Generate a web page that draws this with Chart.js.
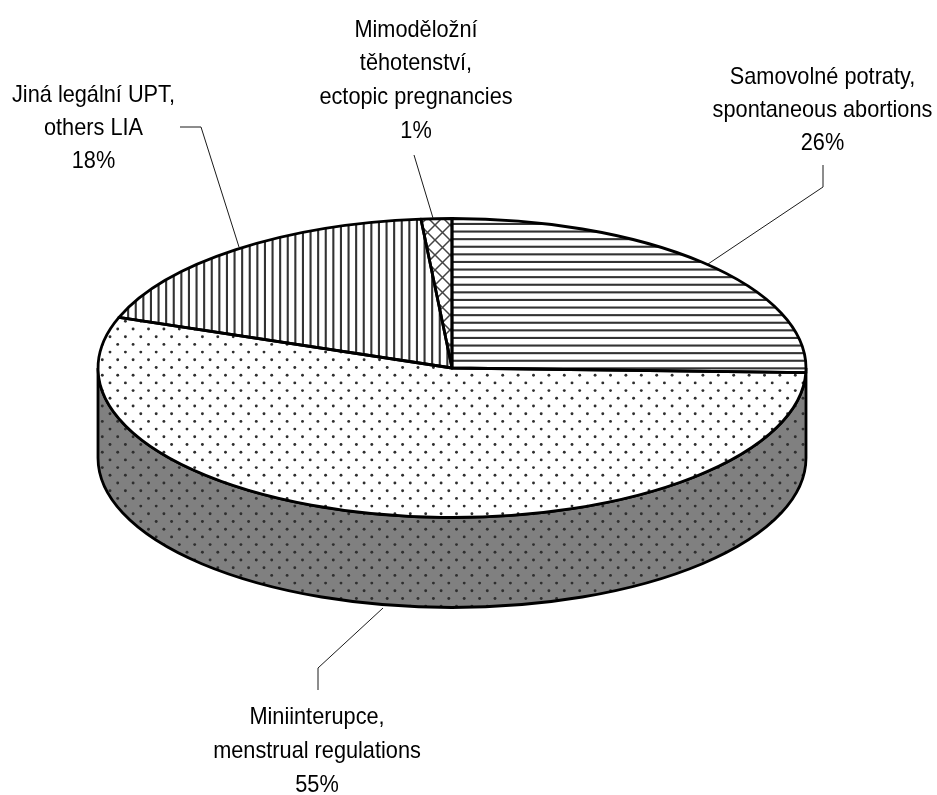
<!DOCTYPE html>
<html>
<head>
<meta charset="utf-8">
<title>Pie</title>
<script src="https://cdn.jsdelivr.net/npm/chart.js@4"></script>
<style>
  html, body { margin: 0; padding: 0; background: #fff; }
  #wrap { position: relative; width: 937px; height: 795px; }
</style>
</head>
<body>
<div id="wrap"><canvas id="pie" width="937" height="795"></canvas></div>
<script>
// slice order, clockwise from 12 o'clock
const categories = [
  'Samovolné potraty, spontaneous abortions',
  'Miniinterupce, menstrual regulations',
  'Jiná legální UPT, others LIA',
  'Mimoděložní těhotenství, ectopic pregnancies'
];
const values = [25.5, 55, 18.1, 1.4];
const percentLabels = ['26%', '55%', '18%', '1%'];
const labelLines = [
  ['Samovolné potraty,', 'spontaneous abortions'],
  ['Miniinterupce,', 'menstrual regulations'],
  ['Jiná legální UPT,', 'others LIA'],
  ['Mimoděložní', 'těhotenství,', 'ectopic pregnancies']
];

// layout of the flattened pie
const squash = 149.5 / 354;
const depth = 90;
const centerY = 368;
const textStretch = 0.905;
const labelBoxes = [
  { x: 822.5, y: 83.5, step: 33.4 },
  { x: 317, y: 723.5, step: 34 },
  { x: 93.5, y: 101.5, step: 33.2 },
  { x: 416, y: 36.5, step: 33.8 }
];
const leaders = [
  [[708, 264], [823, 187], [823, 165]],
  [[383, 608], [318, 668], [318, 690]],
  [[239, 247], [201, 127], [180, 127]],
  [[433, 218], [414, 155]]
];

function tile(size, paint) {
  const c = document.createElement('canvas');
  c.width = size;
  c.height = size;
  paint(c.getContext('2d'));
  return c;
}

function hLines(ctx) {
  ctx.fillStyle = '#fff';
  ctx.fillRect(0, 0, 38, 38);
  ctx.fillStyle = '#333';
  for (let i = 0; i < 5; i++) ctx.fillRect(0, i * 7.6 + 2.5, 38, 2.1);
}

function vLines(ctx) {
  ctx.fillStyle = '#fff';
  ctx.fillRect(0, 0, 38, 38);
  ctx.fillStyle = '#333';
  for (let i = 0; i < 5; i++) ctx.fillRect(i * 7.6 + 5.5, 0, 2.1, 38);
}

function dots(bg) {
  return ctx => {
    ctx.fillStyle = bg;
    ctx.fillRect(0, 0, 77, 77);
    ctx.fillStyle = '#2e2e2e';
    for (let r = 0; r < 10; r++) {
      for (let i = 0; i < 5; i++) {
        ctx.beginPath();
        ctx.arc(i * 15.4 + (r % 2 ? 0 : 7.7) + 2.2, r * 7.7 + 5.6, 1.45, 0, Math.PI * 2);
        ctx.fill();
      }
    }
  };
}

function crossHatch(ctx) {
  ctx.fillStyle = '#fff';
  ctx.fillRect(0, 0, 15, 15);
  ctx.strokeStyle = '#444';
  ctx.lineWidth = 1.5;
  ctx.beginPath();
  ctx.moveTo(-1, -1); ctx.lineTo(16, 16);
  ctx.moveTo(16, -1); ctx.lineTo(-1, 16);
  ctx.stroke();
}

const canvas = document.getElementById('pie');
const ctx0 = canvas.getContext('2d');

// the slices are drawn through a squashed transform, so undo it for the fills
function slicePattern(c) {
  const p = ctx0.createPattern(c, 'repeat');
  p.setTransform(new DOMMatrix().translate(0, centerY).scale(1, 1 / squash).translate(0, -centerY));
  return p;
}

const fills = [
  slicePattern(tile(38, hLines)),
  slicePattern(tile(77, dots('#fff'))),
  slicePattern(tile(38, vLines)),
  slicePattern(tile(15, crossHatch))
];
const wallFill = ctx0.createPattern(tile(77, dots('#808080')), 'repeat');

const flatPie = {
  id: 'flatPie',
  beforeDatasetsDraw(chart) {
    // side wall, taken from the first arc's geometry
    const a = chart.getDatasetMeta(0).data[0];
    const rx = a.outerRadius, ry = rx * squash;
    const ctx = chart.ctx;
    ctx.save();
    ctx.beginPath();
    ctx.ellipse(a.x, a.y, rx, ry, 0, 0, Math.PI);
    ctx.ellipse(a.x, a.y + depth, rx, ry, 0, Math.PI, 0, true);
    ctx.closePath();
    ctx.fillStyle = wallFill;
    ctx.fill();
    ctx.strokeStyle = '#000';
    ctx.lineWidth = 2.8;
    ctx.stroke();
    ctx.restore();
  },
  beforeDatasetDraw(chart) {
    const a = chart.getDatasetMeta(0).data[0];
    const ctx = chart.ctx;
    ctx.save();
    ctx.translate(0, a.y);
    ctx.scale(1, squash);
    ctx.translate(0, -a.y);
  },
  afterDatasetDraw(chart) {
    const ctx = chart.ctx;
    ctx.restore();
    // outlines here so the pen keeps its width on the ellipse
    ctx.save();
    ctx.strokeStyle = '#000';
    ctx.lineWidth = 2.8;
    ctx.lineJoin = 'round';
    chart.getDatasetMeta(0).data.forEach(a => {
      const rx = a.outerRadius;
      ctx.beginPath();
      ctx.moveTo(a.x, a.y);
      ctx.ellipse(a.x, a.y, rx, rx * squash, 0, a.startAngle, a.endAngle);
      ctx.closePath();
      ctx.stroke();
    });
    ctx.restore();
  },
  afterDraw(chart) {
    const ctx = chart.ctx;
    ctx.save();
    ctx.strokeStyle = '#1a1a1a';
    ctx.lineWidth = 1;
    leaders.forEach(pts => {
      ctx.beginPath();
      pts.forEach((p, i) => i ? ctx.lineTo(p[0], p[1]) : ctx.moveTo(p[0], p[1]));
      ctx.stroke();
    });
    ctx.fillStyle = '#000';
    ctx.font = '24px "Liberation Sans", Arial, sans-serif';
    ctx.textAlign = 'center';
    ctx.textBaseline = 'alphabetic';
    labelLines.forEach((lines, i) => {
      const box = labelBoxes[i];
      lines.concat(percentLabels[i]).forEach((t, j) => {
        // reference type is narrower than Liberation Sans at this height
        ctx.save();
        ctx.translate(box.x, box.y + j * box.step);
        ctx.scale(textStretch, 1);
        ctx.fillText(t, 0, 0);
        ctx.restore();
      });
    });
    ctx.restore();
  }
};

new Chart(canvas, {
  type: 'pie',
  data: {
    labels: categories,
    datasets: [{
      data: values,
      backgroundColor: fills,
      borderWidth: 0
    }]
  },
  options: {
    responsive: false,
    animation: false,
    events: [],
    layout: { padding: { left: 98, right: 131, top: 0, bottom: 795 - 2 * centerY } },
    plugins: { legend: { display: false }, tooltip: { enabled: false } }
  },
  plugins: [flatPie]
});
</script>
</body>
</html>
